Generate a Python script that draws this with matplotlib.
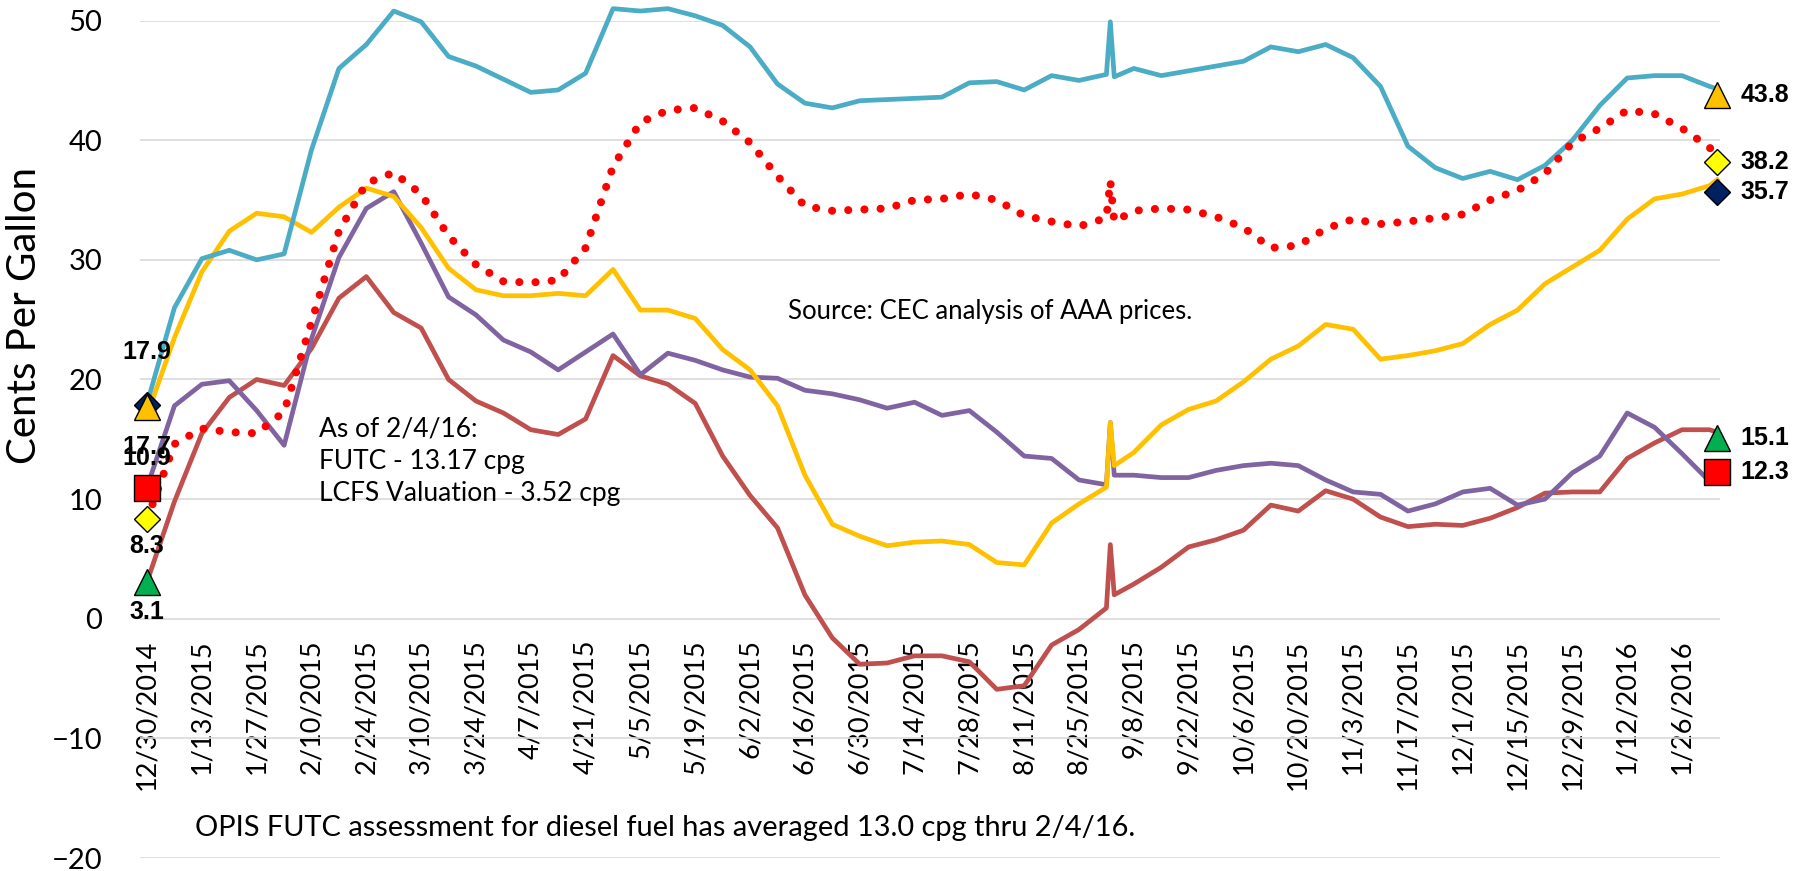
import pandas as pd
import matplotlib
matplotlib.use("Agg")
import matplotlib.pyplot as plt

plt.rcParams['font.family'] = ['Lato', 'DejaVu Sans']

# weekly points, plus the one-day jump in early September and the last day
weeks = pd.date_range("2014-12-30", "2016-02-02", freq="7D")
extra = pd.to_datetime(["2015-09-02", "2015-09-03", "2016-02-04"])
dates = weeks.append(extra).sort_values()

teal = [18.0, 26.0, 30.1, 30.8, 30.0, 30.5, 39.2, 46.0, 48.0, 50.8,
        49.9, 47.0, 46.2, 45.1, 44.0, 44.2, 45.6, 51.0, 50.8, 51.0,
        50.4, 49.6, 47.8, 44.7, 43.1, 42.7, 43.3, 43.4, 43.5, 43.6,
        44.8, 44.9, 44.2, 45.4, 45.0, 45.5, 49.9, 45.3, 46.0, 45.4,
        45.8, 46.2, 46.6, 47.8, 47.4, 48.0, 46.9, 44.5, 39.5, 37.7,
        36.8, 37.4, 36.7, 37.9, 40.0, 42.9, 45.2, 45.4, 45.4, 44.5,
        44.3]
gold = [17.0, 23.5, 29.0, 32.4, 33.9, 33.6, 32.3, 34.4, 36.0, 35.3,
        32.7, 29.3, 27.5, 27.0, 27.0, 27.2, 27.0, 29.2, 25.8, 25.8,
        25.1, 22.5, 20.8, 17.8, 12.0, 7.9, 6.9, 6.1, 6.4, 6.5,
        6.2, 4.7, 4.5, 8.0, 9.6, 11.0, 16.4, 12.8, 13.9, 16.2,
        17.5, 18.2, 19.8, 21.7, 22.8, 24.6, 24.2, 21.7, 22.0, 22.4,
        23.0, 24.6, 25.8, 28.0, 29.4, 30.8, 33.4, 35.1, 35.5, 36.2,
        36.7]
purple = [11.0, 17.8, 19.6, 19.9, 17.4, 14.5, 23.4, 30.2, 34.3, 35.7,
          31.4, 26.9, 25.4, 23.3, 22.3, 20.8, 22.3, 23.8, 20.4, 22.2,
          21.6, 20.8, 20.2, 20.1, 19.1, 18.8, 18.3, 17.6, 18.1, 17.0,
          17.4, 15.6, 13.6, 13.4, 11.6, 11.2, 16.4, 12.0, 12.0, 11.8,
          11.8, 12.4, 12.8, 13.0, 12.8, 11.6, 10.6, 10.4, 9.0, 9.6,
          10.6, 10.9, 9.5, 10.0, 12.2, 13.6, 17.2, 16.0, 13.8, 11.5,
          11.8]
red = [8.3, 14.6, 15.9, 15.6, 15.5, 17.3, 24.8, 32.4, 36.4, 37.3,
       35.5, 32.0, 29.6, 28.2, 28.1, 28.3, 31.0, 37.8, 41.5, 42.5,
       42.7, 41.6, 39.8, 37.0, 34.5, 34.1, 34.2, 34.3, 35.0, 35.1,
       35.5, 35.0, 33.7, 33.2, 32.8, 33.5, 36.6, 33.2, 34.1, 34.3,
       34.2, 33.6, 32.7, 31.0, 31.2, 32.6, 33.4, 33.0, 33.2, 33.5,
       33.8, 35.0, 35.8, 37.2, 39.8, 41.0, 42.5, 42.2, 41.0, 39.4,
       38.7]
brown = [3.1, 9.8, 15.5, 18.5, 20.0, 19.5, 22.6, 26.8, 28.6, 25.6,
         24.3, 20.0, 18.2, 17.2, 15.8, 15.4, 16.7, 22.0, 20.3, 19.6,
         18.0, 13.6, 10.3, 7.6, 2.0, -1.6, -3.8, -3.7, -3.1, -3.1,
         -3.6, -5.9, -5.6, -2.2, -0.9, 0.9, 6.2, 2.0, 2.9, 4.3,
         6.0, 6.6, 7.4, 9.5, 9.0, 10.7, 10.0, 8.5, 7.7, 7.9,
         7.8, 8.4, 9.3, 10.5, 10.6, 10.6, 13.4, 14.7, 15.8, 15.8,
         15.6]

# marker series at first and last day: teal, gold, purple, red, brown
mark_start = [17.7, 17.9, 10.9, 8.3, 3.1]
mark_end = [43.8, 35.7, 12.3, 38.2, 15.1]
mark_shape = ['^', 'D', 's', 'D', '^']
mark_color = ['#FFC000', '#002060', '#FF0000', '#FFFF00', '#00B050']
mark_size = [19, 13.5, 19, 13.5, 19]
start_dy = [-29, 38, 22, -19, -22]   # label offset in points

W, H = 1798, 871
fig = plt.figure(figsize=(W / 100, H / 100), dpi=100)
ax = fig.add_axes([140 / W, 1 - 858 / H, 1580 / W, (858 - 20.6) / H])
for s in ax.spines.values():
    s.set_color('none')
ax.spines['bottom'].set_position(('data', 0))

lw = 3.4
ax.plot(dates, brown, color='#C0504D', lw=lw, clip_on=False, zorder=3)
ax.plot(dates, purple, color='#8064A2', lw=lw, clip_on=False, zorder=3)
ax.plot(dates, gold, color='#FFC000', lw=lw, clip_on=False, zorder=3)
ax.plot(dates, teal, color='#4BACC6', lw=lw, clip_on=False, zorder=3)
ax.plot(dates, red, color='#FF0000', lw=5.8, linestyle=(0, (0.01, 2.0)),
        dash_capstyle='round', clip_on=False, zorder=4)

bold = dict(fontsize=18, fontweight='bold',
            family=['Liberation Sans', 'DejaVu Sans'])
for i in [1, 0, 2, 3, 4]:
    for x, v in [(dates[0], mark_start[i]), (dates[-1], mark_end[i])]:
        ax.plot([x], [v], marker=mark_shape[i], ms=mark_size[i],
                mfc=mark_color[i], mec='black', mew=1, ls='none',
                clip_on=False, zorder=5)
    ax.annotate(f"{mark_start[i]:.1f}", (dates[0], mark_start[i]),
                xytext=(0, start_dy[i]), textcoords='offset points',
                ha='center', va='center', zorder=6, **bold)
    ax.annotate(f"{mark_end[i]:.1f}", (dates[-1], mark_end[i]),
                xytext=(16.5, 0), textcoords='offset points',
                ha='left', va='center', annotation_clip=False, zorder=6, **bold)

t0 = dates[0]
ax.set_xlim(t0 - pd.Timedelta(days=1.8), t0 + pd.Timedelta(days=401.7))
ax.set_ylim(-20, 50)
ax.set_yticks(range(-20, 51, 10))
xt = pd.date_range("2014-12-30", "2016-01-26", freq="14D")
ax.set_xticks(xt)
ax.set_xticklabels([f"{d.month}/{d.day}/{d.year}" for d in xt])
ax.tick_params(axis='y', length=0, pad=27, labelsize=21)
ax.tick_params(axis='x', length=0, pad=15, labelsize=19.5, labelrotation=90)

ax.grid(axis='y', color='#D9D9D9', lw=1.2)
ax.set_axisbelow(True)

fig.text(25 / W, 1 - 315 / H, "Cents Per Gallon", rotation=90,
         ha='center', va='center', fontsize=29)
fig.text(788 / W, 1 - 311 / H, "Source: CEC analysis of AAA prices.",
         ha='left', va='center', fontsize=18.5)
fig.text(319 / W, 1 - 461 / H,
         "As of 2/4/16:\nFUTC - 13.17 cpg\nLCFS Valuation - 3.52 cpg",
         ha='left', va='center', fontsize=19, linespacing=1.35)
fig.text(195 / W, 1 - 828 / H,
         "OPIS FUTC assessment for diesel fuel has averaged 13.0 cpg thru 2/4/16.",
         ha='left', va='center', fontsize=20.9)

fig.savefig("out.png", dpi=100)
